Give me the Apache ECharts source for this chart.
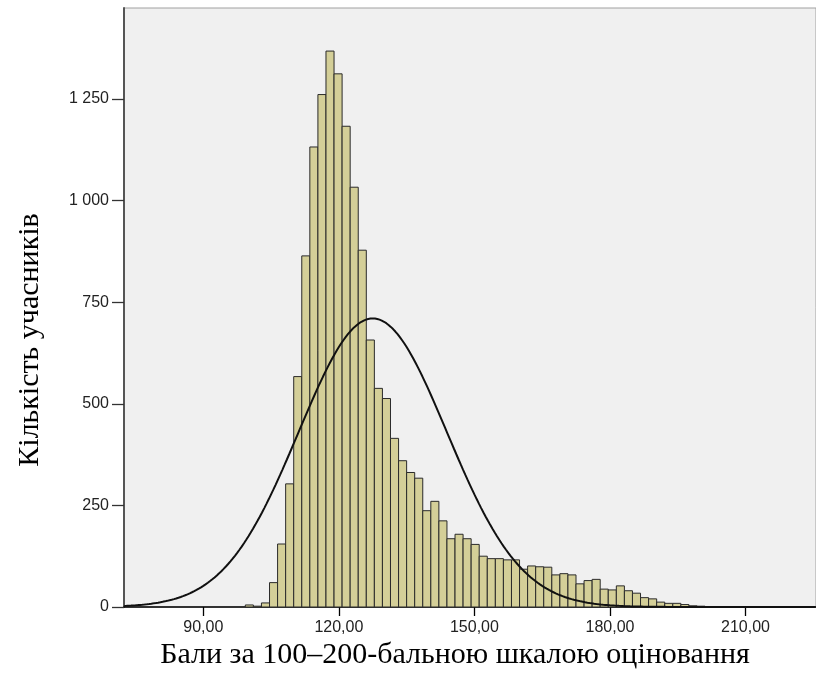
<!DOCTYPE html>
<html>
<head>
<meta charset="utf-8">
<script src="https://cdn.jsdelivr.net/npm/echarts@6/dist/echarts.min.js"></script>
<style>
  html, body { margin: 0; padding: 0; background: #fff; }
  #main { width: 816px; height: 675px; }
</style>
</head>
<body>
<div id="main"></div>
<script>
// histogram bins (score units)
var binStart = 99.3;
var binWidth = 1.785;
// participants per bin, left to right
var counts = [5, 2, 10, 60, 155, 303, 567, 864, 1132, 1261, 1368, 1312, 1183, 1033, 878,
  657, 538, 513, 415, 360, 331, 317, 237, 260, 212, 168, 179, 168, 154, 125,
  119, 119, 116, 116, 93, 101, 99, 98, 79, 82, 79, 57, 65, 68, 44,
  42, 52, 40, 34, 23, 20, 12, 9, 9, 6, 3, 2];
var xTicks = [90, 120, 150, 180, 210];
var yTicks = [0, 250, 500, 750, 1000, 1250];
// fitted normal curve
var curveMean = 127.5;
var curveSd = 16.4;
var curveN = 16354;

var bins = counts.map(function (c, i) {
  return [binStart + i * binWidth, binStart + (i + 1) * binWidth, c];
});

var curve = [];
for (var x = 72.5; x <= 225.6; x += 0.5) {
  var z = (x - curveMean) / curveSd;
  curve.push([x, curveN * binWidth / (curveSd * Math.sqrt(2 * Math.PI)) * Math.exp(-z * z / 2)]);
}

function fmtY(v) {
  if (v >= 1000) return Math.floor(v / 1000) + ' ' + String(v % 1000).padStart(3, '0');
  return String(v);
}

var chart = echarts.init(document.getElementById('main'));
chart.setOption({
  animation: false,
  grid: {
    left: 124, top: 8, right: -2, bottom: 68,
    show: true, backgroundColor: '#f0f0f0', borderColor: '#a0a0a0', borderWidth: 1
  },
  xAxis: {
    type: 'value', min: 72.45, max: 225.6,
    axisLine: { show: true, onZero: false, lineStyle: { color: '#000', width: 1.6 } },
    axisTick: { show: true, customValues: xTicks, length: 9, lineStyle: { color: '#000', width: 1.3 } },
    axisLabel: {
      customValues: xTicks, color: '#222', fontFamily: 'Liberation Sans', fontSize: 16, margin: 13,
      formatter: function (v) { return v.toFixed(2).replace('.', ','); }
    },
    splitLine: { show: false }
  },
  yAxis: {
    type: 'value', min: 0, max: 1474,
    axisLine: { show: true, lineStyle: { color: '#555', width: 2 } },
    axisTick: { show: true, customValues: yTicks, length: 12, lineStyle: { color: '#333', width: 1.3 } },
    axisLabel: { customValues: yTicks, color: '#222', fontFamily: 'Liberation Sans', fontSize: 16, margin: 15, formatter: fmtY },
    splitLine: { show: false }
  },
  series: [
    {
      type: 'custom',
      data: bins,
      encode: { x: [0, 1], y: 2 },
      renderItem: function (params, api) {
        var p0 = api.coord([api.value(0), 0]);
        var p1 = api.coord([api.value(1), api.value(2)]);
        return {
          type: 'rect',
          shape: { x: p0[0], y: p1[1], width: p1[0] - p0[0], height: p0[1] - p1[1] },
          style: { fill: '#d4cf98', stroke: '#2a2a2a', lineWidth: 1 }
        };
      },
      z: 2
    },
    {
      type: 'line',
      data: curve,
      showSymbol: false,
      lineStyle: { color: '#111', width: 2 },
      z: 3
    }
  ],
  graphic: [
    {
      type: 'text', x: 30, y: 340, rotation: Math.PI / 2,
      style: { text: 'Кількість учасників', font: '30px "Liberation Serif"', fill: '#000', align: 'center', verticalAlign: 'middle' }
    },
    {
      type: 'text', x: 455, y: 655,
      style: { text: 'Бали за 100–200-бальною шкалою оціновання', font: '30px "Liberation Serif"', fill: '#000', align: 'center', verticalAlign: 'middle' }
    }
  ]
});
</script>
</body>
</html>
